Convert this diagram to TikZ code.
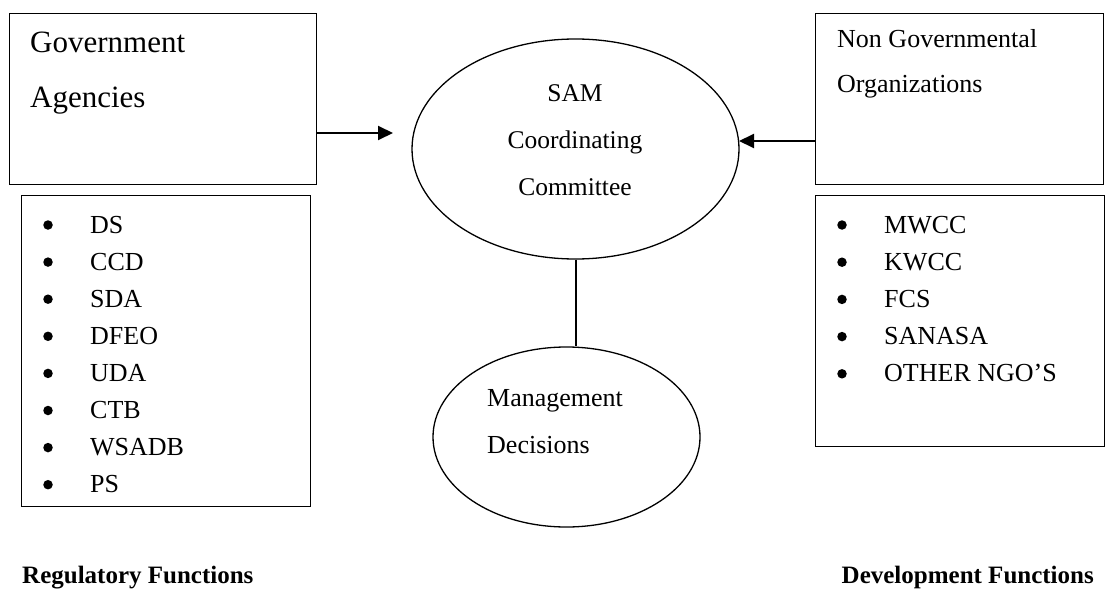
\documentclass[tikz,border=0pt]{standalone}
\usepackage{fontspec}
\setmainfont{Liberation Serif}
\usetikzlibrary{shapes.geometric,arrows.meta}

\tikzset{
  frame/.style={draw, line width=1.4pt, inner sep=0pt, anchor=north west},
  oval/.style={draw, ellipse, line width=1.3pt, inner sep=0pt},
  txt/.style={inner sep=0pt, anchor=base west, font=\fontsize{26}{30}\selectfont},
  bigtxt/.style={inner sep=0pt, anchor=base west, font=\fontsize{31}{36}\selectfont},
  ctxt/.style={inner sep=0pt, anchor=base, font=\fontsize{25.5}{30}\selectfont},
  head/.style={inner sep=0pt, anchor=base west, font=\fontsize{25}{29}\selectfont\bfseries},
  dot/.style={circle, fill, inner sep=0pt, minimum size=9.5pt},
  feed/.style={line width=2pt, -{Triangle[length=15pt,width=14pt]}},
  link/.style={line width=2pt}
}

\begin{document}
\begin{tikzpicture}[x=1pt,y=-1pt]
\useasboundingbox (0,0) rectangle (1107,591);

% boxes
\node[frame, minimum width=307.5pt, minimum height=171pt] (gov) at (8.5,13) {};
\node[frame, minimum width=289pt, minimum height=311pt] (govlist) at (21,195) {};
\node[frame, minimum width=288pt, minimum height=171pt] (ngo) at (815,13) {};
\node[frame, minimum width=289pt, minimum height=251pt] (ngolist) at (815,195) {};

% ellipses
\node[oval, minimum width=327pt, minimum height=220pt] (sam) at (575.5,149) {};
\node[oval, minimum width=267pt, minimum height=180pt] (mgmt) at (566.5,437) {};

% box titles
\node[bigtxt] (govt1) at (30,53) {Government};
\node[bigtxt] (govt2) at (30,108) {Agencies};
\node[txt] (ngot1) at (837,48) {Non Governmental};
\node[txt] (ngot2) at (837,93) {Organizations};

% ellipse texts
\node[ctxt] (samt1) at (575,102) {SAM};
\node[ctxt] (samt2) at (575,148) {Coordinating};
\node[ctxt] (samt3) at (575,195) {Committee};
\node[txt] (mgt1) at (487,406) {Management};
\node[txt] (mgt2) at (487,453) {Decisions};

% agency lists
\foreach \item [count=\i from 0] in {DS,CCD,SDA,DFEO,UDA,CTB,WSADB,PS} {
  \node[dot] (gb\i) at (48,225+37.1*\i) {};
  \node[txt] (gi\i) at (90,233+37.1*\i) {\item};
}
\foreach \item [count=\i from 0] in {MWCC,KWCC,FCS,SANASA,OTHER NGO’S} {
  \node[dot] (nb\i) at (842,225+37.2*\i) {};
  \node[txt] (ni\i) at (884,233+37.2*\i) {\item};
}

% function headings
\node[head] (reg) at (22,583) {Regulatory Functions};
\node[head, anchor=base east] (dev) at (1094,583) {Development Functions};

% connectors
\coordinate (lefttip) at (393,133);
\coordinate (righttip) at (739,141);
\draw[feed] (gov.east |- lefttip) -- (lefttip);
\draw[feed] (ngo.west |- righttip) -- (righttip);
\draw[link] (sam.south) -- (sam.south |- mgmt.north);
\end{tikzpicture}
\end{document}
